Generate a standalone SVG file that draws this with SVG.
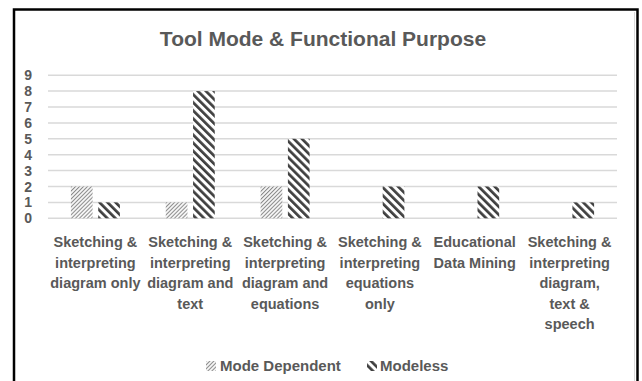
<svg xmlns="http://www.w3.org/2000/svg" width="642" height="381" viewBox="0 0 642 381">
  <style>
    .t { font-family: "Liberation Sans", Arial, sans-serif; font-weight: bold; fill: #595959; }
    .title { font-size: 21px; text-anchor: middle; }
    .ax { font-size: 14px; text-anchor: end; }
    .cat { font-size: 14.5px; text-anchor: middle; }
    .leg { font-size: 15px; }
    .grid { stroke: #d9d9d9; stroke-width: 1.5; }
    .md { fill: url(#pMD); }
    .ml { fill: url(#pML); }
  </style>
  <defs>
    <pattern id="pMD" patternUnits="userSpaceOnUse" width="2.8" height="10" patternTransform="rotate(45)">
      <rect x="0" y="0" width="2.8" height="10" fill="#ffffff"/>
      <rect x="0" y="0" width="1.1" height="10" fill="#8a8a8a"/>
    </pattern>
    <pattern id="pML" patternUnits="userSpaceOnUse" width="5.7" height="10" patternTransform="rotate(-45)">
      <rect x="0" y="0" width="5.7" height="10" fill="#ffffff"/>
      <rect x="0" y="0" width="2.7" height="10" fill="#404040"/>
    </pattern>
  </defs>

  <rect x="0" y="0" width="642" height="381" fill="#ffffff"/>
  <line x1="634.5" y1="12" x2="634.5" y2="381" stroke="#d9d9d9" stroke-width="1"/>
  <path d="M14,381 V9.5 H637.5 V381" fill="none" stroke="#000000" stroke-width="2.5"/>

  <text class="t title" x="323" y="46">Tool Mode &amp; Functional Purpose</text>

  <g id="gridlines">
    <line class="grid" x1="48" y1="218.3" x2="617" y2="218.3"/>
    <line class="grid" x1="48" y1="202.4" x2="617" y2="202.4"/>
    <line class="grid" x1="48" y1="186.5" x2="617" y2="186.5"/>
    <line class="grid" x1="48" y1="170.6" x2="617" y2="170.6"/>
    <line class="grid" x1="48" y1="154.7" x2="617" y2="154.7"/>
    <line class="grid" x1="48" y1="138.8" x2="617" y2="138.8"/>
    <line class="grid" x1="48" y1="122.9" x2="617" y2="122.9"/>
    <line class="grid" x1="48" y1="107.0" x2="617" y2="107.0"/>
    <line class="grid" x1="48" y1="91.1" x2="617" y2="91.1"/>
    <line class="grid" x1="48" y1="75.2" x2="617" y2="75.2"/>
  </g>

  <g id="y-axis">
    <text class="t ax" x="32" y="223.3">0</text>
    <text class="t ax" x="32" y="207.4">1</text>
    <text class="t ax" x="32" y="191.5">2</text>
    <text class="t ax" x="32" y="175.6">3</text>
    <text class="t ax" x="32" y="159.7">4</text>
    <text class="t ax" x="32" y="143.8">5</text>
    <text class="t ax" x="32" y="127.9">6</text>
    <text class="t ax" x="32" y="112.0">7</text>
    <text class="t ax" x="32" y="96.1">8</text>
    <text class="t ax" x="32" y="80.2">9</text>
  </g>

  <g id="bars-mode-dependent">
    <rect class="md" x="70.9" y="186.5" width="21.7" height="31.8"/>
    <rect class="md" x="165.75" y="202.4" width="21.7" height="15.9"/>
    <rect class="md" x="260.6" y="186.5" width="21.7" height="31.8"/>
  </g>
  <g id="bars-modeless">
    <rect class="ml" x="98.2" y="202.4" width="21.7" height="15.9"/>
    <rect class="ml" x="193.05" y="91.1" width="21.7" height="127.2"/>
    <rect class="ml" x="287.9" y="138.8" width="21.7" height="79.5"/>
    <rect class="ml" x="382.7" y="186.5" width="21.7" height="31.8"/>
    <rect class="ml" x="477.5" y="186.5" width="21.7" height="31.8"/>
    <rect class="ml" x="572.4" y="202.4" width="21.7" height="15.9"/>
  </g>

  <g id="cat1">
    <text class="t cat" x="95.4" y="247">Sketching &amp;</text>
    <text class="t cat" x="95.4" y="267.5">interpreting</text>
    <text class="t cat" x="95.4" y="288">diagram only</text>
  </g>
  <g id="cat2">
    <text class="t cat" x="190.25" y="247">Sketching &amp;</text>
    <text class="t cat" x="190.25" y="267.5">interpreting</text>
    <text class="t cat" x="190.25" y="288">diagram and</text>
    <text class="t cat" x="190.25" y="308.5">text</text>
  </g>
  <g id="cat3">
    <text class="t cat" x="285.1" y="247">Sketching &amp;</text>
    <text class="t cat" x="285.1" y="267.5">interpreting</text>
    <text class="t cat" x="285.1" y="288">diagram and</text>
    <text class="t cat" x="285.1" y="308.5">equations</text>
  </g>
  <g id="cat4">
    <text class="t cat" x="379.9" y="247">Sketching &amp;</text>
    <text class="t cat" x="379.9" y="267.5">interpreting</text>
    <text class="t cat" x="379.9" y="288">equations</text>
    <text class="t cat" x="379.9" y="308.5">only</text>
  </g>
  <g id="cat5">
    <text class="t cat" x="474.7" y="247">Educational</text>
    <text class="t cat" x="474.7" y="267.5">Data Mining</text>
  </g>
  <g id="cat6">
    <text class="t cat" x="569.6" y="247">Sketching &amp;</text>
    <text class="t cat" x="569.6" y="267.5">interpreting</text>
    <text class="t cat" x="569.6" y="288">diagram,</text>
    <text class="t cat" x="569.6" y="308.5">text &amp;</text>
    <text class="t cat" x="569.6" y="329">speech</text>
  </g>

  <g id="legend">
    <rect class="md" x="206" y="361" width="10" height="10"/>
    <text class="t leg" x="220" y="371">Mode Dependent</text>
    <rect class="ml" x="367" y="361" width="10" height="10"/>
    <text class="t leg" x="380" y="371">Modeless</text>
  </g>
</svg>
